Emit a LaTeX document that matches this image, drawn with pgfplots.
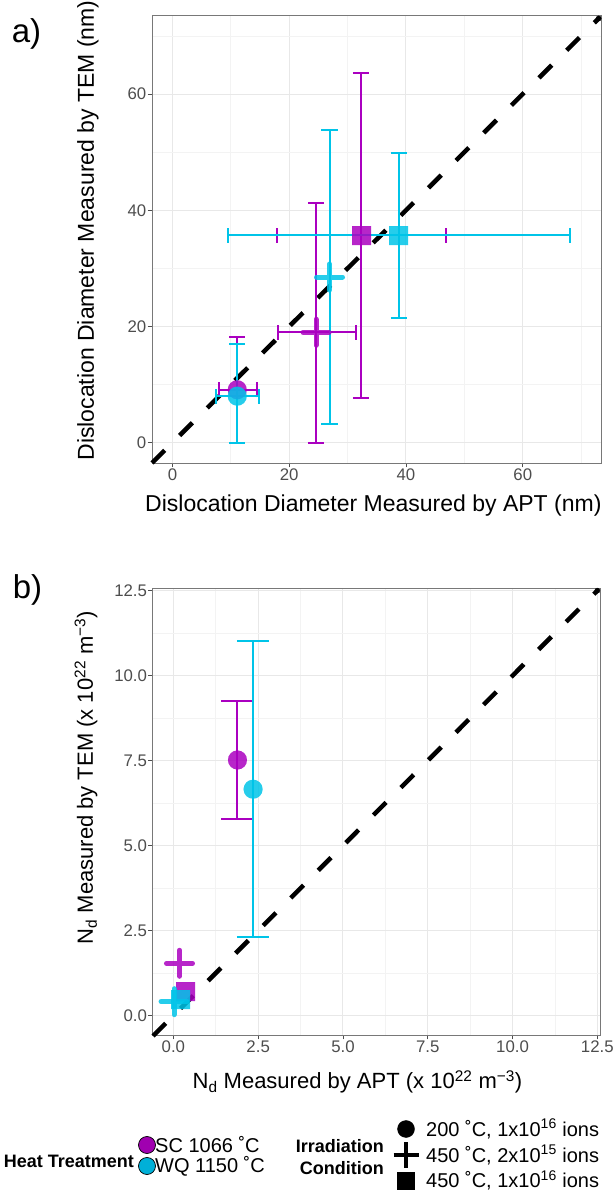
\documentclass[border=0pt]{standalone}
\usepackage{fontspec}
\setmainfont{Liberation Sans}
\usepackage{pgfplots}
\pgfplotsset{compat=1.18}
\definecolor{SC}{RGB}{170,0,192}
\definecolor{WQ}{RGB}{0,196,232}
\definecolor{SCleg}{RGB}{160,0,176}
\definecolor{WQleg}{RGB}{0,176,216}
\definecolor{gridmaj}{RGB}{232,232,232}
\definecolor{gridmin}{RGB}{243,243,243}
\definecolor{frame}{RGB}{120,120,120}
\definecolor{ticklab}{RGB}{77,77,77}
\pgfplotsset{
 myaxis/.style={
  scale only axis, clip=false,
  axis line style={draw=frame, line width=0.8bp},
  tick align=outside, major tick length=4.5bp, minor tick length=0pt,
  tick style={draw=ticklab, line width=0.8bp},
  xtick pos=bottom, ytick pos=left,
  grid=both,
  major grid style={draw=gridmaj, line width=1bp},
  minor grid style={draw=gridmin, line width=0.7bp},
  tick label style={font=\fontsize{16.8bp}{19bp}\selectfont, text=ticklab, inner sep=1bp},
  /pgf/number format/assume math mode=true,
 },
 eb/.style={draw=#1, line width=2bp, no marks, solid, forget plot},
 pcirc/.style={only marks, mark=*, mark size=9.5bp, mark options={draw=#1, fill=#1, line width=0.01bp, opacity=0.85}},
 psq/.style={only marks, mark=square*, mark size=9.5bp, mark options={draw=#1, fill=#1, line width=0.01bp, opacity=0.85}},
 pplus/.style={only marks, mark=+, mark size=13bp, mark options={draw=#1, line width=5bp, line cap=round, draw opacity=0.85}},
}
% vertical error bar: colour, x, ylow, yhigh, cap half-width (x units)
\newcommand\errV[5]{%
 \addplot[eb=#1] coordinates {(#2,#3) (#2,#4)};
 \addplot[eb=#1] coordinates {({#2-#5},#3) ({#2+#5},#3)};
 \addplot[eb=#1] coordinates {({#2-#5},#4) ({#2+#5},#4)};}
% horizontal error bar: colour, y, xlow, xhigh, cap half-height (y units)
\newcommand\errH[5]{%
 \addplot[eb=#1] coordinates {(#3,#2) (#4,#2)};
 \addplot[eb=#1] coordinates {(#3,{#2-#5}) (#3,{#2+#5})};
 \addplot[eb=#1] coordinates {(#4,{#2-#5}) (#4,{#2+#5})};}
\newcommand\labfont{\fontsize{23bp}{26bp}\selectfont}
\newcommand\labfontb{\fontsize{22bp}{25bp}\selectfont}
\newcommand\legfont{\fontsize{20bp}{22bp}\selectfont}
\newcommand\legtitle{\bfseries\fontsize{18bp}{22bp}\selectfont}
\begin{document}
\begin{tikzpicture}[x=1bp,y=1bp]
\path[use as bounding box] (0,0) rectangle (616,1191);
\node[font=\fontsize{33bp}{36bp}\selectfont, inner sep=0] at (26.5,1157) {a)};
\node[font=\fontsize{33bp}{36bp}\selectfont, inner sep=0] at (27.5,601.5) {b)};
% ---------------- panel a
\begin{axis}[myaxis, at={(152bp,728bp)}, anchor=south west, width=449bp, height=448bp,
  xmin=-3.5, xmax=73.4, ymin=-3.5, ymax=73.6,
  xtick={0,20,40,60}, ytick={0,20,40,60},
  minor xtick={10,30,50,70}, minor ytick={10,30,50,70},
  xlabel={Dislocation Diameter Measured by APT (nm)},
  ylabel={Dislocation Diameter Measured by TEM (nm)},
  label style={font=\labfont, text=black, inner sep=0},
  xlabel style={at={(axis description cs:0.493,-0.094)}, anchor=center},
  ylabel style={at={(axis description cs:-0.1425,0.519)}, anchor=center},
]
\addplot[black, line width=4.5bp, dash pattern=on 18bp off 21bp] coordinates {(-3.5,-3.5) (73,73)};
\addplot[only marks, mark=*, mark size=2.6bp, black] coordinates {(73,73)};
% SC (magenta) error bars
\errV{SC}{11.1}{0}{18.2}{1.4}
\errH{SC}{9.1}{7.9}{14.4}{1.3}
\errV{SC}{24.6}{0}{41.2}{1.4}
\errH{SC}{19.0}{18.0}{31.4}{1.3}
\errV{SC}{32.3}{7.75}{63.7}{1.4}
\errH{SC}{35.7}{17.9}{46.9}{1.3}
% WQ (cyan) error bars
\errV{WQ}{11.1}{0}{17.0}{1.4}
\errH{WQ}{8.0}{7.5}{14.8}{1.3}
\errV{WQ}{26.9}{3.2}{53.8}{1.4}
\errV{WQ}{38.8}{21.4}{49.8}{1.4}
\errH{WQ}{35.7}{9.6}{68.1}{1.3}
% points
\addplot[pcirc=SC] coordinates {(11.1,9.1)};
\addplot[pplus=SC] coordinates {(24.6,19.0)};
\addplot[psq=SC] coordinates {(32.3,35.7)};
\addplot[pcirc=WQ] coordinates {(11.1,8.0)};
\addplot[pplus=WQ] coordinates {(26.9,28.5)};
\addplot[psq=WQ] coordinates {(38.8,35.7)};
\end{axis}
% ---------------- panel b
\begin{axis}[myaxis, at={(152.7bp,156bp)}, anchor=south west, width=448bp, height=446.7bp,
  xmin=-0.61, xmax=12.6, ymin=-0.57, ymax=12.57,
  xtick={0,2.5,5,7.5,10,12.5}, ytick={0,2.5,5,7.5,10,12.5},
  minor xtick={1.25,3.75,6.25,8.75,11.25}, minor ytick={1.25,3.75,6.25,8.75,11.25},
  xticklabel style={/pgf/number format/.cd, fixed, fixed zerofill, precision=1},
  yticklabel style={/pgf/number format/.cd, fixed, fixed zerofill, precision=1},
  xlabel={N\textsubscript{d} Measured by APT (x 10\textsuperscript{22} m\textsuperscript{−3})},
  ylabel={N\textsubscript{d} Measured by TEM (x 10\textsuperscript{22} m\textsuperscript{−3})},
  label style={font=\labfontb, text=black, inner sep=0},
  xlabel style={at={(axis description cs:0.457,-0.1045)}, anchor=center},
  ylabel style={at={(axis description cs:-0.149,0.576)}, anchor=center},
]
\addplot[black, line width=4.5bp, dash pattern=on 18bp off 21bp] coordinates {(-0.6,-0.6) (12.5,12.5)};
\addplot[only marks, mark=*, mark size=2.6bp, black] coordinates {(12.5,12.5)};
\errV{SC}{1.89}{5.79}{9.25}{0.48}
\errV{WQ}{2.35}{2.31}{11.01}{0.48}
\addplot[pcirc=SC] coordinates {(1.89,7.52)};
\addplot[pcirc=WQ] coordinates {(2.35,6.66)};
\addplot[psq=SC] coordinates {(0.35,0.70)};
\addplot[pplus=SC] coordinates {(0.18,1.54)};
\addplot[psq=WQ] coordinates {(0.22,0.48)};
\addplot[pplus=WQ] coordinates {(0.02,0.41)};
\end{axis}
% ---------------- legend
\begin{axis}[at={(0bp,0bp)}, anchor=south west, scale only axis, width=616bp, height=91bp,
  xmin=0, xmax=616, ymin=0, ymax=91, hide axis, clip=false]
\node[anchor=east, font=\legtitle, inner sep=0] at (axis cs:134,30) {Heat Treatment};
\addplot[only marks, mark=*, mark size=8.5bp, mark options={fill=SCleg, draw=black, line width=0.7bp}] coordinates {(147,46)};
\addplot[only marks, mark=*, mark size=8.5bp, mark options={fill=WQleg, draw=black, line width=0.7bp}] coordinates {(147,25)};
\node[anchor=west, font=\legfont, inner sep=0] at (axis cs:155,46) {SC 1066 ˚C};
\node[anchor=west, font=\legfont, inner sep=0] at (axis cs:155,25) {WQ 1150 ˚C};
\node[anchor=east, align=right, font=\legtitle, inner sep=0] at (axis cs:384,34) {Irradiation\\Condition};
\addplot[only marks, mark=*, mark size=8.5bp, mark options={fill=black, draw=black}] coordinates {(406,62)};
\addplot[only marks, mark=+, mark size=12.5bp, mark options={draw=black, line width=3.5bp}] coordinates {(406,36)};
\addplot[only marks, mark=square*, mark size=8.5bp, mark options={fill=black, draw=black}] coordinates {(406,10.5)};
\node[anchor=west, font=\legfont, inner sep=0] at (axis cs:426,62) {200 ˚C, 1x10\textsuperscript{16} ions};
\node[anchor=west, font=\legfont, inner sep=0] at (axis cs:426,36) {450 ˚C, 2x10\textsuperscript{15} ions};
\node[anchor=west, font=\legfont, inner sep=0] at (axis cs:426,10.5) {450 ˚C, 1x10\textsuperscript{16} ions};
\end{axis}
\end{tikzpicture}
\end{document}
